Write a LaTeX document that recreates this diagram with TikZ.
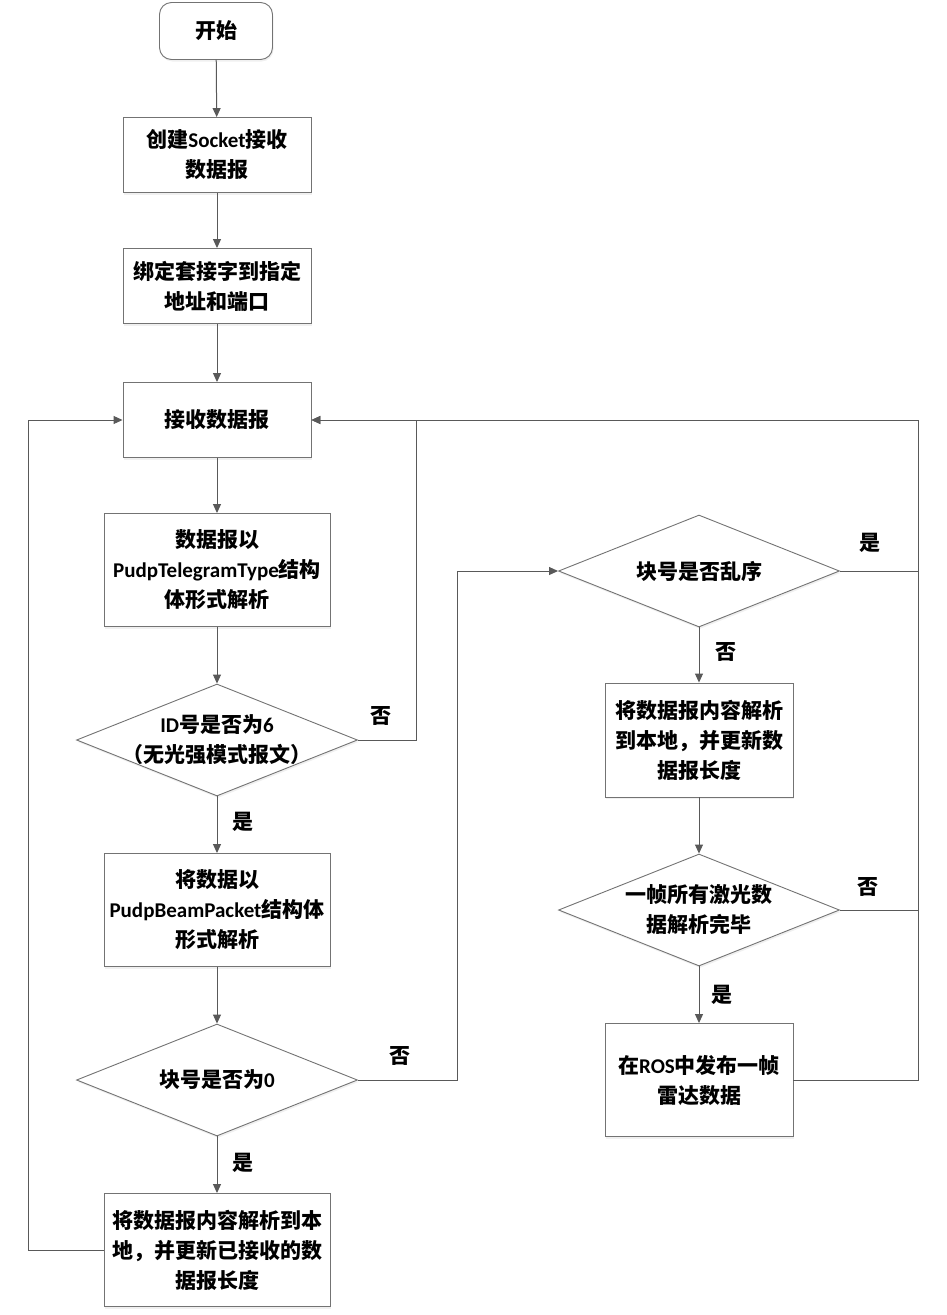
\documentclass[tikz,border=0pt]{standalone}
\usepackage{fontspec}
\setmainfont{Carlito}
\newfontfamily\cjk{Noto Sans CJK SC}
\usetikzlibrary{shapes.geometric, arrows.meta, shadows}

\newcommand{\lat}[1]{{\rmfamily\bfseries #1}}

\begin{document}
\begin{tikzpicture}[
	    x=1pt, y=-1pt,
	    >={Triangle[length=9pt,width=8pt]},
	    every node/.style={font=\cjk\bfseries\fontsize{21}{30}\selectfont, align=center, text=black},
	    proc/.style={rectangle, draw=gray!90!black, fill=white, line width=0.9pt, inner sep=2pt,
	        drop shadow={opacity=0.12, shadow xshift=1pt, shadow yshift=-2pt}},
	    term/.style={proc, rounded corners=12pt, minimum width=113pt, minimum height=57pt},
	    decide/.style={diamond, aspect=2.5, draw=gray!90!black, fill=white, line width=0.9pt, inner sep=-22pt,
	        minimum width=281pt, minimum height=112pt,
	        drop shadow={opacity=0.12, shadow xshift=1pt, shadow yshift=-2pt}},
	    branch/.style={inner sep=0pt},
	    arrow/.style={->, line width=1pt, draw=black!65},
	    wire/.style={line width=1pt, draw=black!65}
	]
		\useasboundingbox (0,0) rectangle (947,1315);

		% left column
		\node[term] (start) at (216,31) {开始};
		\node[proc, minimum width=188pt, minimum height=75pt] (sock) at (217,155) {创建\lat{Socket}接收\\数据报};
		\node[proc, minimum width=188pt, minimum height=75pt] (bind) at (217,286) {绑定套接字到指定\\地址和端口};
		\node[proc, minimum width=188pt, minimum height=75pt] (recv) at (217,420) {接收数据报};
		\node[proc, minimum width=226pt, minimum height=113pt] (tele) at (217,570) {数据报以\\\lat{PudpTelegramType}结构\\体形式解析};
		\node[decide] (isid) at (217,740) {\lat{ID}号是否为\lat{6}\\（无光强模式报文）};
		\node[proc, minimum width=226pt, minimum height=113pt] (beam) at (217,910) {将数据以\\\lat{PudpBeamPacket}结构体\\形式解析};
		\node[decide] (iszero) at (217,1080) {块号是否为\lat{0}};
		\node[proc, minimum width=226pt, minimum height=113pt] (store) at (217,1250) {将数据报内容解析到本\\地，并更新已接收的数\\据报长度};

		% right column
		\node[decide] (order) at (699,571) {块号是否乱序};
		\node[proc, minimum width=188pt, minimum height=114pt] (parse) at (699,740) {将数据报内容解析\\到本地，并更新数\\据报长度};
		\node[decide] (done) at (699,910) {一帧所有激光数\\据解析完毕};
		\node[proc, minimum width=188pt, minimum height=113pt] (pub) at (699,1080) {在\lat{ROS}中发布一帧\\雷达数据};

		% branch labels
		\node[branch] (no1) at (381,716) {否};
		\node[branch] (yes1) at (243,822) {是};
		\node[branch] (no2) at (400,1056) {否};
		\node[branch] (yes2) at (243,1163) {是};
		\node[branch] (yes3) at (870,543) {是};
		\node[branch] (no3) at (726,652) {否};
		\node[branch] (no4) at (868,887) {否};
		\node[branch] (yes4) at (722,995) {是};

		\coordinate (back) at (416,740);
		\coordinate (jump) at (457,1080);
		\coordinate (loop) at (28,1250);
		\coordinate (rtop) at (918,420);
		\coordinate (rbot) at (918,1080);

		\draw[arrow] (start) -- (sock);
		\draw[arrow] (sock) -- (bind);
		\draw[arrow] (bind) -- (recv);
		\draw[arrow] (recv) -- (tele);
		\draw[arrow] (tele) -- (isid);
		\draw[arrow] (isid) -- (beam);
		\draw[arrow] (beam) -- (iszero);
		\draw[arrow] (iszero) -- (store);

		\draw[arrow] (isid.east) -- (back) |- (recv.east);
		\draw[arrow] (iszero.east) -- (jump) |- (order.west);
		\draw[arrow] (store.west) -- (loop) |- (recv.west);

		\draw[arrow] (order) -- (parse);
		\draw[arrow] (parse) -- (done);
		\draw[arrow] (done) -- (pub);

		\draw[arrow] (pub.east) -- (rbot) -- (rtop) -- (recv.east);
		\draw[wire] (order.east) -- (order.east -| rtop);
		\draw[wire] (done.east) -- (done.east -| rtop);
	\end{tikzpicture}
\end{document}
